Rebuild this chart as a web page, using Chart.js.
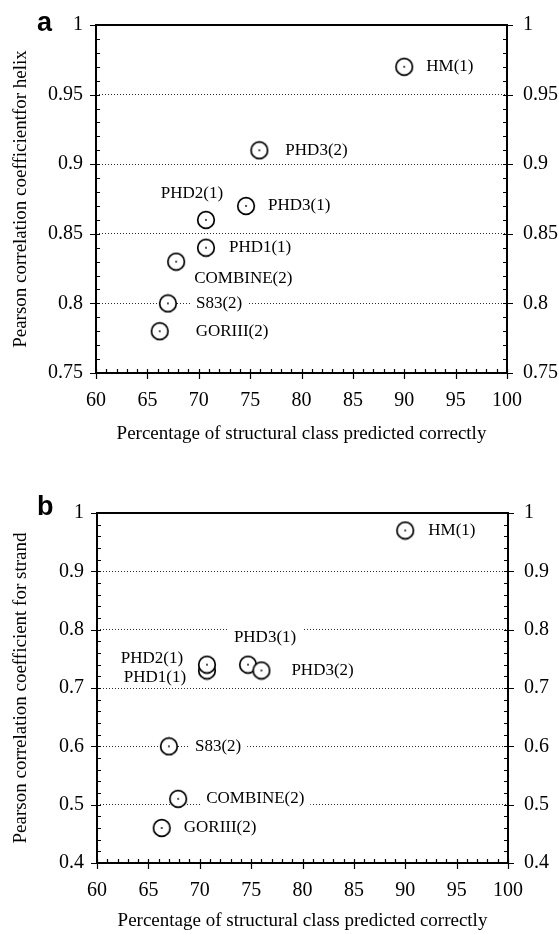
<!DOCTYPE html>
<html>
<head>
<meta charset="utf-8">
<script src="https://cdn.jsdelivr.net/npm/chart.js@4.4.1/dist/chart.umd.min.js"></script>
<style>
  body { margin: 0; background: #fff; }
  canvas { display: block; }
</style>
</head>
<body>
<canvas id="chartA" width="559" height="467"></canvas>
<canvas id="chartB" width="559" height="467"></canvas>
<script>
// methods, drawn in this order (later ones sit on top)
const methods = ['GORIII(2)', 'S83(2)', 'COMBINE(2)', 'PHD1(1)', 'PHD2(1)', 'PHD3(1)', 'PHD3(2)', 'HM(1)'];

// % of structural class predicted correctly
const helixX  = [66.2, 67.0, 67.8, 70.7, 70.7, 74.6, 75.9, 90.0];
const strandX = [66.3, 67.0, 67.9, 70.7, 70.7, 74.7, 76.0, 90.0];

// Pearson correlation coefficients
const helixY  = [0.78, 0.80, 0.83, 0.84, 0.86, 0.87, 0.91, 0.97];
const strandY = [0.46, 0.60, 0.51, 0.73, 0.74, 0.74, 0.73, 0.97];

// tick labels
const xTicks      = [60, 65, 70, 75, 80, 85, 90, 95, 100];
const helixTicks  = [0.75, 0.8, 0.85, 0.9, 0.95, 1];
const strandTicks = [0.4, 0.5, 0.6, 0.7, 0.8, 0.9, 1];
const xMinorStep = 1, helixMinorStep = 0.01, strandMinorStep = 0.02;

const xTitle = 'Percentage of structural class predicted correctly';

// label placement relative to each point: [dx, dy, align]
const helixLabelPos = [[36, 0, 'left'], [28, 0, 'left'], [18, 17, 'left'], [23, 0, 'left'],
                       [-14, -26, 'center'], [22, 0, 'left'], [26, 0, 'left'], [22, 0, 'left']];
const strandLabelPos = [[22, 0, 'left'], [26, 0, 'left'], [28, 0, 'left'], [-52, 7, 'center'],
                        [-55, -6, 'center'], [17, -27, 'center'], [30, 0, 'left'], [23, 0, 'left']];

const SERIF = '"Liberation Serif", "Times New Roman", serif';

// open circle with a tiny centre dot, used as point style
function circleMark() {
  const c = document.createElement('canvas');
  c.width = 20; c.height = 20;
  const g = c.getContext('2d');
  g.beginPath(); g.arc(10, 10, 8.3, 0, Math.PI * 2);
  g.fillStyle = '#fff'; g.fill();
  g.lineWidth = 1.7; g.strokeStyle = '#000'; g.stroke();
  g.beginPath(); g.arc(10, 10, 0.9, 0, Math.PI * 2);
  g.fillStyle = '#000'; g.fill();
  return c;
}

function near(list, v, eps) { return list.some(t => Math.abs(t - v) < eps); }

function panelPlugin(cfg) {
  return {
    id: 'panel' + cfg.letter,
    beforeDatasetsDraw(chart) {
      const ctx = chart.ctx;
      const pts = chart.getDatasetMeta(0).data;
      ctx.save();
      ctx.font = '17px ' + SERIF;
      ctx.textBaseline = 'middle';
      pts.forEach((pt, i) => {
        const [dx, dy, align] = cfg.labelPos[i];
        const text = methods[i];
        const w = ctx.measureText(text).width;
        const x = align === 'center' ? pt.x + dx - w / 2 : pt.x + dx;
        const y = pt.y + dy;
        ctx.fillStyle = '#fff';
        ctx.fillRect(x - 6, y - 9, w + 12, 18);
        ctx.fillStyle = '#000';
        ctx.fillText(text, x, y);
      });
      ctx.restore();
    },
    afterDraw(chart) {
      const ctx = chart.ctx;
      const {left, right, top, bottom} = chart.chartArea;
      const sx = chart.scales.x, sy = chart.scales.y;
      ctx.save();
      ctx.strokeStyle = '#000';
      ctx.lineWidth = 2;
      ctx.strokeRect(left, top, right - left, bottom - top);

      ctx.lineWidth = 1.2;
      ctx.beginPath();
      const x0 = xTicks[0], nx = Math.round((xTicks[xTicks.length - 1] - x0) / xMinorStep);
      for (let i = 0; i <= nx; i++) {
        const v = x0 + i * xMinorStep;
        const px = Math.round(sx.getPixelForValue(v)) + 0.5;
        const major = near(xTicks, v, 1e-6);
        ctx.moveTo(px, bottom + (major ? 6 : 0));
        ctx.lineTo(px, bottom - 4);
      }
      const t = cfg.ticks, y0 = t[0], ny = Math.round((t[t.length - 1] - y0) / cfg.minorStep);
      for (let i = 0; i <= ny; i++) {
        const v = y0 + i * cfg.minorStep;
        const py = Math.round(sy.getPixelForValue(v)) + 0.5;
        const major = near(t, v, 1e-6);
        ctx.moveTo(left - (major ? 6 : 0), py); ctx.lineTo(left + 4, py);
        ctx.moveTo(right + (major ? 6 : 0), py); ctx.lineTo(right - 4, py);
      }
      ctx.stroke();

      ctx.fillStyle = '#000';
      ctx.font = 'bold 27px "Liberation Sans", Arial, sans-serif';
      ctx.textBaseline = 'alphabetic';
      ctx.fillText(cfg.letter, 37, cfg.letterY);
      ctx.restore();
    }
  };
}

function makeChart(id, xs, ys, cfg) {
  const yMin = cfg.ticks[0], yMax = cfg.ticks[cfg.ticks.length - 1];
  const tickFont = {family: SERIF, size: 20};
  const titleFont = {family: SERIF, size: 19};
  const fmt = v => String(+(+v).toFixed(2));
  return new Chart(document.getElementById(id), {
    type: 'scatter',
    data: {
      datasets: [{
        data: xs.map((x, i) => ({x: x, y: ys[i]})),
        pointStyle: circleMark(),
        pointRadius: 10
      }]
    },
    options: {
      responsive: false,
      animation: false,
      events: [],
      layout: {padding: {top: cfg.padTop, left: 0, right: 0, bottom: 0}},
      plugins: {legend: {display: false}, tooltip: {enabled: false}},
      scales: {
        x: {
          type: 'linear',
          min: xTicks[0], max: xTicks[xTicks.length - 1],
          afterBuildTicks: s => { s.ticks = xTicks.map(v => ({value: v})); },
          afterFit: s => { s.height = cfg.bottomH; },
          grid: {display: false},
          border: {display: false},
          ticks: {font: tickFont, color: '#000', padding: 8, maxRotation: 0, autoSkip: false},
          title: {display: true, text: xTitle, font: titleFont, color: '#000',
                  padding: {top: 0, bottom: cfg.titlePad}}
        },
        y: {
          min: yMin, max: yMax,
          afterBuildTicks: s => { s.ticks = cfg.ticks.map(v => ({value: v})); },
          afterFit: s => { s.width = cfg.leftW; },
          grid: {
            drawTicks: false,
            lineWidth: 1,
            color: c => (c.tick && (c.tick.value <= yMin + 1e-6 || c.tick.value >= yMax - 1e-6)) ? 'rgba(0,0,0,0)' : '#2a2a2a'
          },
          border: {display: false, dash: [1, 2]},
          ticks: {font: tickFont, color: '#000', padding: 13, autoSkip: false, callback: fmt},
          title: {display: true, text: cfg.yTitle, font: titleFont, color: '#000',
                  padding: {top: 10, bottom: 0}}
        },
        y2: {
          position: 'right',
          min: yMin, max: yMax,
          afterBuildTicks: s => { s.ticks = cfg.ticks.map(v => ({value: v})); },
          afterFit: s => { s.width = cfg.rightW; },
          grid: {display: false},
          border: {display: false},
          ticks: {font: tickFont, color: '#000', padding: 8, autoSkip: false, callback: fmt}
        }
      }
    },
    plugins: [panelPlugin(cfg)]
  });
}

makeChart('chartA', helixX, helixY, {
  letter: 'a', letterY: 31,
  yTitle: 'Pearson correlation coefficientfor helix',
  ticks: helixTicks, minorStep: helixMinorStep, labelPos: helixLabelPos,
  padTop: 24, leftW: 96, rightW: 52, bottomH: 94, titlePad: 22
});

makeChart('chartB', strandX, strandY, {
  letter: 'b', letterY: 48,
  yTitle: 'Pearson correlation coefficient for strand',
  ticks: strandTicks, minorStep: strandMinorStep, labelPos: strandLabelPos,
  padTop: 46, leftW: 97, rightW: 51, bottomH: 71, titlePad: 2
});
</script>
</body>
</html>
